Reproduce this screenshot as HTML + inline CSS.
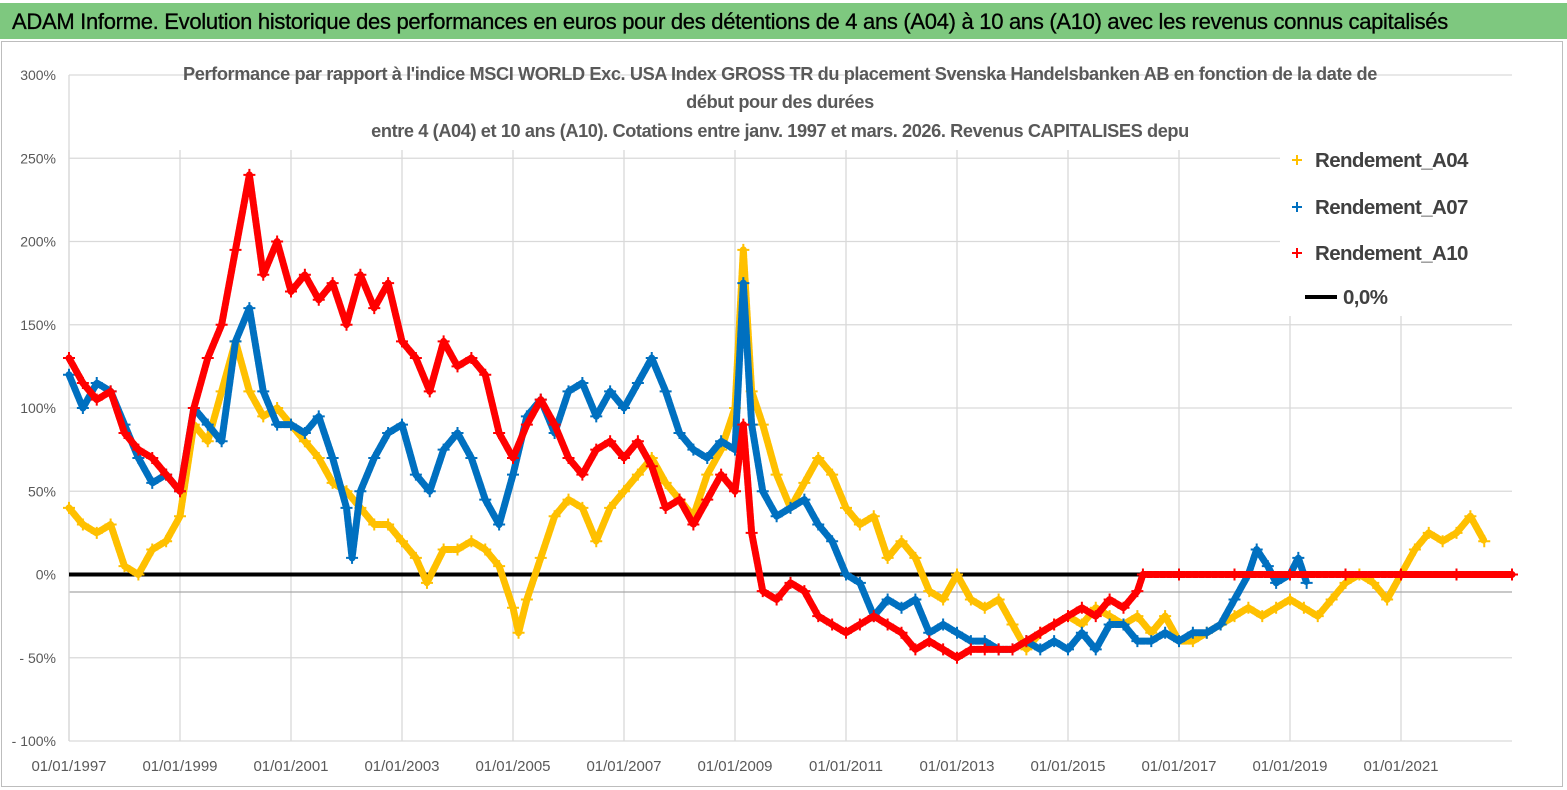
<!DOCTYPE html>
<html><head><meta charset="utf-8">
<style>
html,body{margin:0;padding:0;background:#fff;}
body{width:1567px;height:790px;position:relative;overflow:hidden;font-family:"Liberation Sans",sans-serif;}
#bar{position:absolute;left:0;top:3px;width:1567px;height:36px;background:#7ec87f;}
#bar span{position:absolute;left:12px;top:6px;font-size:22px;color:#000;letter-spacing:-0.3px;white-space:nowrap;-webkit-text-stroke:0.3px #000;}
#frame{position:absolute;left:1px;top:41px;width:1562px;height:746px;border:1px solid #bdbdbd;box-sizing:border-box;}
</style></head>
<body>
<div id="bar"><span>ADAM Informe. Evolution historique des performances en euros pour des détentions de 4 ans (A04) à 10 ans (A10) avec les revenus connus capitalisés</span></div>
<div id="frame"></div>
<svg id="chart" width="1567" height="790" style="position:absolute;left:0;top:0"></svg>
<script>
const tA04=[1997,1997.25,1997.5,1997.75,1998,1998.25,1998.5,1998.75,1999,1999.25,1999.5,1999.75,2000,2000.25,2000.5,2000.75,2001,2001.25,2001.5,2001.75,2002,2002.25,2002.5,2002.75,2003,2003.25,2003.45,2003.75,2004,2004.25,2004.5,2004.75,2005,2005.1,2005.25,2005.5,2005.75,2006,2006.25,2006.5,2006.75,2007,2007.25,2007.5,2007.75,2008,2008.25,2008.5,2008.75,2009,2009.15,2009.3,2009.5,2009.75,2010,2010.25,2010.5,2010.75,2011,2011.25,2011.5,2011.75,2012,2012.25,2012.5,2012.75,2013,2013.25,2013.5,2013.75,2014,2014.25,2014.5,2014.75,2015,2015.25,2015.5,2015.75,2016,2016.25,2016.5,2016.75,2017,2017.25,2017.5,2017.75,2018,2018.25,2018.5,2018.75,2019,2019.25,2019.5,2019.75,2020,2020.25,2020.5,2020.75,2021,2021.25,2021.5,2021.75,2022,2022.25,2022.5];
const vA04=[40,30,25,30,5,0,15,20,35,90,80,110,140,110,95,100,90,80,70,55,50,40,30,30,20,10,-5,15,15,20,15,5,-20,-35,-15,10,35,45,40,20,40,50,60,70,55,45,35,60,75,100,195,110,90,60,40,55,70,60,40,30,35,10,20,10,-10,-15,0,-15,-20,-15,-30,-45,-35,-30,-25,-30,-20,-25,-30,-25,-35,-25,-40,-40,-35,-30,-25,-20,-25,-20,-15,-20,-25,-15,-5,0,-5,-15,0,15,25,20,25,35,20];
const tA07=[1997,1997.25,1997.5,1997.75,1998,1998.25,1998.5,1998.75,1999,1999.25,1999.5,1999.75,2000,2000.25,2000.5,2000.75,2001,2001.25,2001.5,2001.75,2002,2002.1,2002.25,2002.5,2002.75,2003,2003.25,2003.5,2003.75,2004,2004.25,2004.5,2004.75,2005,2005.25,2005.5,2005.75,2006,2006.25,2006.5,2006.75,2007,2007.25,2007.5,2007.75,2008,2008.25,2008.5,2008.75,2009,2009.15,2009.3,2009.5,2009.75,2010,2010.25,2010.5,2010.75,2011,2011.25,2011.5,2011.75,2012,2012.25,2012.5,2012.75,2013,2013.25,2013.5,2013.75,2014,2014.25,2014.5,2014.75,2015,2015.25,2015.5,2015.75,2016,2016.25,2016.5,2016.75,2017,2017.25,2017.5,2017.75,2018,2018.25,2018.4,2018.6,2018.75,2019,2019.15,2019.3];
const vA07=[120,100,115,110,90,70,55,60,50,100,90,80,140,160,110,90,90,85,95,70,40,10,50,70,85,90,60,50,75,85,70,45,30,60,95,105,85,110,115,95,110,100,115,130,110,85,75,70,80,75,175,90,50,35,40,45,30,20,0,-5,-25,-15,-20,-15,-35,-30,-35,-40,-40,-45,-45,-40,-45,-40,-45,-35,-45,-30,-30,-40,-40,-35,-40,-35,-35,-30,-15,0,15,5,-5,0,10,-5];
const tA10=[1997,1997.25,1997.5,1997.75,1998,1998.25,1998.5,1998.75,1999,1999.25,1999.5,1999.75,2000,2000.25,2000.5,2000.75,2001,2001.25,2001.5,2001.75,2002,2002.25,2002.5,2002.75,2003,2003.25,2003.5,2003.75,2004,2004.25,2004.5,2004.75,2005,2005.25,2005.5,2005.75,2006,2006.25,2006.5,2006.75,2007,2007.25,2007.5,2007.75,2008,2008.25,2008.5,2008.75,2009,2009.15,2009.3,2009.5,2009.75,2010,2010.25,2010.5,2010.75,2011,2011.25,2011.5,2011.75,2012,2012.25,2012.5,2012.75,2013,2013.25,2013.5,2013.75,2014,2014.25,2014.5,2014.75,2015,2015.25,2015.5,2015.75,2016,2016.25,2016.35,2017,2018,2019,2020,2021,2022,2023];
const vA10=[130,115,105,110,85,75,70,60,50,100,130,150,195,240,180,200,170,180,165,175,150,180,160,175,140,130,110,140,125,130,120,85,70,90,105,90,70,60,75,80,70,80,65,40,45,30,45,60,50,90,25,-10,-15,-5,-10,-25,-30,-35,-30,-25,-30,-35,-45,-40,-45,-50,-45,-45,-45,-45,-40,-35,-30,-25,-20,-25,-15,-20,-10,0,0,0,0,0,0,0,0];
const yTicks=[300,250,200,150,100,50,0,-50,-100];
const yTickLabels=["300%","250%","200%","150%","100%","50%","0%","- 50%","- 100%"];
const xTicks=[1997,1999,2001,2003,2005,2007,2009,2011,2013,2015,2017,2019,2021];
const xTickLabels=["01/01/1997","01/01/1999","01/01/2001","01/01/2003","01/01/2005","01/01/2007","01/01/2009","01/01/2011","01/01/2013","01/01/2015","01/01/2017","01/01/2019","01/01/2021"];

const NS="http://www.w3.org/2000/svg";
const svg=document.getElementById('chart');
const X0=69,X1=1512,Y0=741,Y1=75;
const xs=t=>X0+(t-1997)/(2023-1997)*(X1-X0);
const ys=v=>Y0-(v+100)/400*(Y0-Y1);
function mk(tag,attrs){const e=document.createElementNS(NS,tag);for(const k in attrs)e.setAttribute(k,attrs[k]);svg.appendChild(e);return e;}

yTicks.forEach((v,i)=>{
  const g=mk('line',{x1:X0,x2:X1,y1:ys(v),y2:ys(v),stroke:'#d9d9d9','stroke-width':1.3});
  
  
  const t=mk('text',{x:56,y:ys(v)+5,'text-anchor':'end','font-size':14,fill:'#595959'});
  t.textContent=yTickLabels[i];
  
  
});
xTicks.forEach((d,i)=>{
  const g=mk('line',{x1:xs(d),x2:xs(d),y1:Y1+75,y2:Y0,stroke:'#d9d9d9','stroke-width':1.3});
  
  
  const t=mk('text',{x:xs(d),y:771,'text-anchor':'middle','font-size':15,fill:'#595959'});
  t.textContent=xTickLabels[i];
  
  
});
const ax=mk('line',{x1:X0,x2:X1,y1:592,y2:592,stroke:'#a6a6a6','stroke-width':1.3});


const ay=mk('line',{x1:X0,x2:X0,y1:Y1,y2:Y0,stroke:'#d9d9d9','stroke-width':1.3});



const zl=mk('line',{x1:X0,x2:X1,y1:ys(0),y2:ys(0),stroke:'#000','stroke-width':4});



function series(ts,vs,color,name){
  const pts=ts.map((t,i)=>xs(t)+','+ys(vs[i])).join(' ');
  const pl=mk('polyline',{points:pts,fill:'none',stroke:color,'stroke-width':7,'stroke-linejoin':'round','stroke-linecap':'round','stroke-dasharray':'5 1.5'});
  
  
  ts.forEach((t,i)=>{
    const x=xs(t),y=ys(vs[i]);
    const p=mk('path',{d:`M${x-6},${y}h12M${x},${y-6}v12`,stroke:color,'stroke-width':2});
    
    
  });
}
series(tA04,vA04,'#ffc000','a04');
series(tA07,vA07,'#0070c0','a07');
series(tA10,vA10,'#ff0000','a10');

const titles=[["Performance par rapport à l'indice MSCI WORLD Exc. USA Index GROSS TR  du placement Svenska Handelsbanken AB en fonction de la date de",780,80],["début pour des durées",780,108],["entre 4 (A04) et 10 ans (A10). Cotations entre janv. 1997 et mars. 2026. Revenus CAPITALISES depu",780,137]];
titles.forEach(([s,x,y])=>{
  const t=mk('text',{x:x,y:y,'text-anchor':'middle','font-size':18.2,'font-weight':'bold',fill:'#595959','letter-spacing':'-0.4'});
  t.textContent=s;
  
  
});

const lb=mk('rect',{x:1280,y:140,width:234,height:176,fill:'#fff'});


const leg=[["Rendement_A04",'#ffc000',160],["Rendement_A07",'#0070c0',207],["Rendement_A10",'#ff0000',253],["0,0%",'#000',297]];
leg.forEach(([s,c,y],i)=>{
  if(i<3){const m=mk('path',{d:`M${1292},${y}h10M1297,${y-5}v10`,stroke:c,'stroke-width':2});
    
    }
  else{const m=mk('line',{x1:1305,x2:1337,y1:y,y2:y,stroke:'#000','stroke-width':4});
    
    }
  const t=mk('text',{x:i<3?1315:1343,y:y+7,'font-size':20.5,fill:'#404040','font-weight':'bold','letter-spacing':'-0.6'});
  t.textContent=s;
  
  
});
</script>
</body></html>
